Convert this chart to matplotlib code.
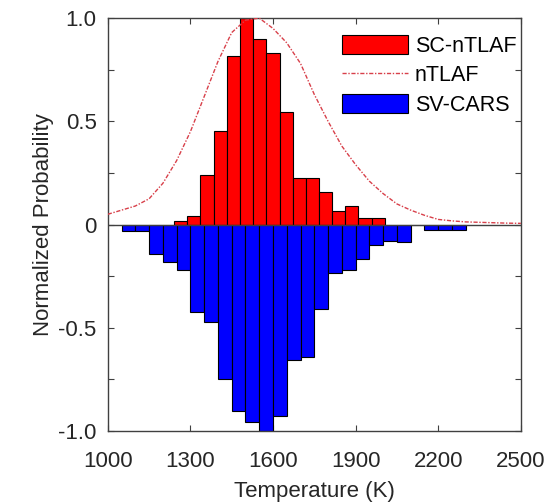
import matplotlib
matplotlib.use("Agg")
import matplotlib.pyplot as plt
import numpy as np

plt.rcParams['font.family'] = ['Liberation Sans', 'DejaVu Sans']

# SC-nTLAF histogram (bin edges in K, normalized heights)
sc_edges = [1239, 1288, 1336, 1384, 1433, 1481, 1527, 1576, 1624,
            1673, 1721, 1766, 1814, 1862, 1910, 1959, 2005]
sc_vals = [0.015, 0.044, 0.238, 0.454, 0.817, 1.0, 0.898, 0.830,
           0.545, 0.225, 0.225, 0.157, 0.068, 0.092, 0.031, 0.031]

# SV-CARS histogram (bin edges in K, normalized heights, drawn downward)
sv_edges = [1050, 1100, 1150, 1200, 1250, 1300, 1350, 1400, 1450, 1500,
            1550, 1600, 1650, 1700, 1750, 1800, 1850, 1900, 1950, 2000,
            2050, 2100, 2150, 2200, 2250, 2300]
sv_vals = [0.031, 0.031, 0.144, 0.18, 0.222, 0.425, 0.473, 0.746, 0.903,
           0.958, 1.0, 0.927, 0.655, 0.641, 0.408, 0.235, 0.222, 0.165,
           0.10, 0.079, 0.084, 0.0, 0.028, 0.028, 0.028]

# nTLAF curve
ntlaf_T = [1000, 1050, 1100, 1150, 1200, 1250, 1300, 1350, 1400, 1450,
           1500, 1550, 1600, 1650, 1700, 1750, 1800, 1850, 1900, 1950,
           2000, 2050, 2100, 2150, 2200, 2250, 2300, 2350, 2400, 2450, 2500]
ntlaf_p = [0.05, 0.07, 0.09, 0.125, 0.20, 0.31, 0.45, 0.62, 0.79, 0.93,
           0.99, 1.0, 0.95, 0.88, 0.78, 0.63, 0.50, 0.38, 0.29, 0.21,
           0.15, 0.10, 0.07, 0.045, 0.025, 0.018, 0.013, 0.011, 0.009,
           0.007, 0.006]

xticks = [1000, 1300, 1600, 1900, 2200, 2500]
yticks = [-1.0, -0.75, -0.5, -0.25, 0, 0.25, 0.5, 0.75, 1.0]
ytick_labels = ['-1.0', '', '-0.5', '', '0', '', '0.5', '', '1.0']

fig = plt.figure(figsize=(5.5, 5.03), dpi=100)
ax = fig.add_axes([0.196, 0.143, 0.751, 0.821])

sc_e = np.array(sc_edges)
sv_e = np.array(sv_edges)
h_sc = ax.bar(sc_e[:-1], sc_vals, width=np.diff(sc_e), align='edge',
              color='#ff0000', edgecolor='black', linewidth=0.8, label='SC-nTLAF', zorder=2)
h_nt, = ax.plot(ntlaf_T, ntlaf_p, linestyle=(0, (3, 1.2, 1, 1.2)), color='#d8404a',
                linewidth=1.0, label='nTLAF', zorder=3)
h_sv = ax.bar(sv_e[:-1], -np.array(sv_vals), width=np.diff(sv_e), align='edge',
              color='#0000ff', edgecolor='black', linewidth=0.8, label='SV-CARS', zorder=2)
ax.axhline(0, color='#404040', linewidth=1.0, zorder=2.5)

ax.set_xlim(1000, 2500)
ax.set_ylim(-1.0, 1.0)
ax.set_xticks(xticks)
ax.set_xticklabels([str(t) for t in xticks])
ax.set_yticks(yticks)
ax.set_yticklabels(ytick_labels)
ax.tick_params(direction='in', top=True, right=True, length=4, width=0.8,
               color='#404040', labelsize=16, labelcolor='#262626')
ax.tick_params(axis='x', pad=14)
ax.tick_params(axis='y', pad=8)
for s in ax.spines.values():
    s.set_color('#404040')
    s.set_linewidth(1.0)

ax.set_xlabel('Temperature (K)', fontsize=16, color='#262626', labelpad=7)
ax.set_ylabel('Normalized Probability', fontsize=16, color='#262626', labelpad=3)

leg = ax.legend(handles=[h_sc, h_nt, h_sv], labels=['SC-nTLAF', 'nTLAF', 'SV-CARS'],
                loc='upper right', bbox_to_anchor=(1.005, 0.975), frameon=False, fontsize=15.5,
                handlelength=3.1, handleheight=1.0, labelspacing=0.35,
                handletextpad=0.3, borderaxespad=0.1, borderpad=0.2)

fig.savefig('out.png', dpi=100)
